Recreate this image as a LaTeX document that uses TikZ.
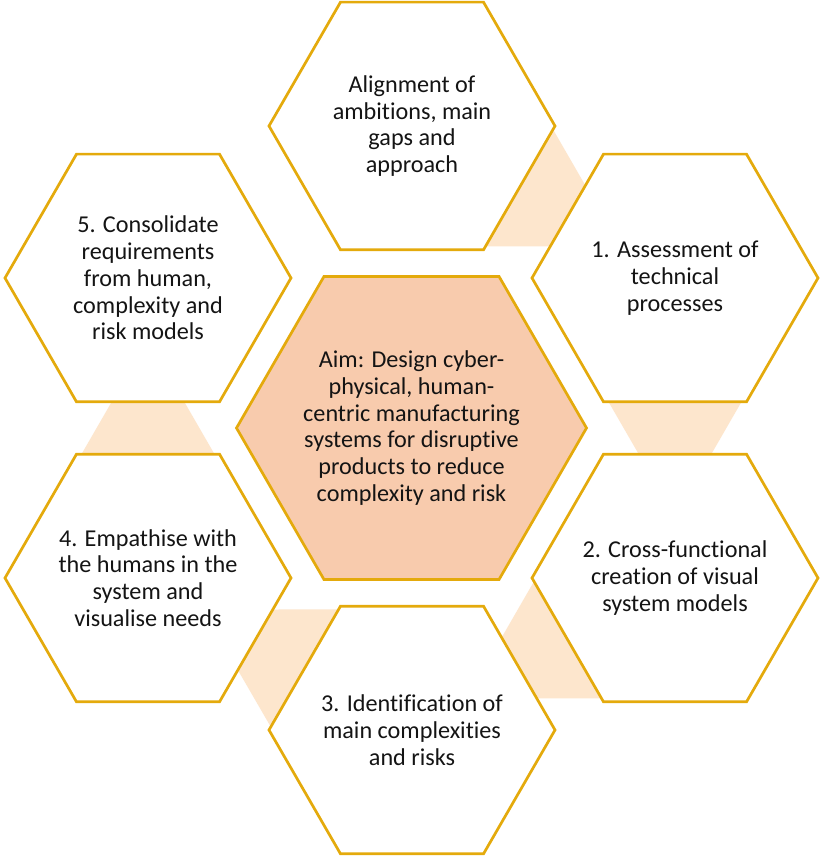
\documentclass[tikz,border=0pt]{standalone}
\usepackage{fontspec}
\setmainfont{Carlito}[Ligatures={NoCommon,NoRare}]
\usetikzlibrary{calc}

\definecolor{hexline}{RGB}{228,170,12}
\definecolor{aimfill}{RGB}{248,203,173}
\definecolor{linkfill}{RGB}{253,230,205}

\tikzset{
  x=1pt, y=1pt,
  hexbox/.style={draw=hexline, line width=2.7pt, line join=miter, fill=white},
  aimbox/.style={hexbox, fill=aimfill},
  caption/.style={align=center, inner sep=0pt, text=black!92,
    font=\fontsize{24.2}{26.7}\selectfont},
  linktri/.style={fill=linkfill, draw=none},
}

% flat-topped hexagon around a centre with half-width #2
\newcommand{\hexat}[3]{%
  \path[#3] (#1) +(0:#2) -- +(60:#2) -- +(120:#2) -- +(180:#2)
    -- +(240:#2) -- +(300:#2) -- cycle;}

% equilateral triangle between two centres, tip towards the second one
\newcommand{\linktri}[3]{%
  \coordinate (#3) at ($(#1)!0.5!(#2)$);
  \fill[linktri] ($(#3)!89pt!(#2)$) -- ($(#3)!89pt!120:(#2)$)
    -- ($(#3)!89pt!-120:(#2)$) -- cycle;}

\begin{document}
\begin{tikzpicture}
  \useasboundingbox[fill=white] (0,0) rectangle (820,856);

  % centres
  \coordinate (c0) at (412,730);
  \coordinate (c1) at (675,578);
  \coordinate (c2) at (675,278);
  \coordinate (c3) at (412,126);
  \coordinate (c4) at (148,278);
  \coordinate (c5) at (148,578);
  \coordinate (cm) at (411.5,428);

  % flow markers between consecutive steps
  \linktri{c0}{c1}{m01}
  \linktri{c1}{c2}{m12}
  \linktri{c2}{c3}{m23}
  \linktri{c3}{c4}{m34}
  \linktri{c4}{c5}{m45}

  % hexagons
  \hexat{c0}{143}{hexbox}
  \hexat{c1}{143}{hexbox}
  \hexat{c2}{143}{hexbox}
  \hexat{c3}{143}{hexbox}
  \hexat{c4}{143}{hexbox}
  \hexat{c5}{143}{hexbox}
  \hexat{cm}{175}{aimbox}

  % texts
  \node[caption] (t0) at (c0) {Alignment of\\ambitions, main\\gaps and\\approach};
  \node[caption] (t1) at (c1) {1. Assessment of\\technical\\processes};
  \node[caption] (t2) at (c2) {2. Cross-functional\\creation of visual\\system models};
  \node[caption] (t3) at (c3) {3. Identification of\\main complexities\\and risks};
  \node[caption] (t4) at (c4) {4. Empathise with\\the humans in the\\system and\\visualise needs};
  \node[caption] (t5) at (c5) {5. Consolidate\\requirements\\from human,\\complexity and\\risk models};
  \node[caption] (tm) at (cm) {Aim: Design cyber-\\physical, human-\\centric manufacturing\\systems for disruptive\\products to reduce\\complexity and risk};
\end{tikzpicture}
\end{document}
